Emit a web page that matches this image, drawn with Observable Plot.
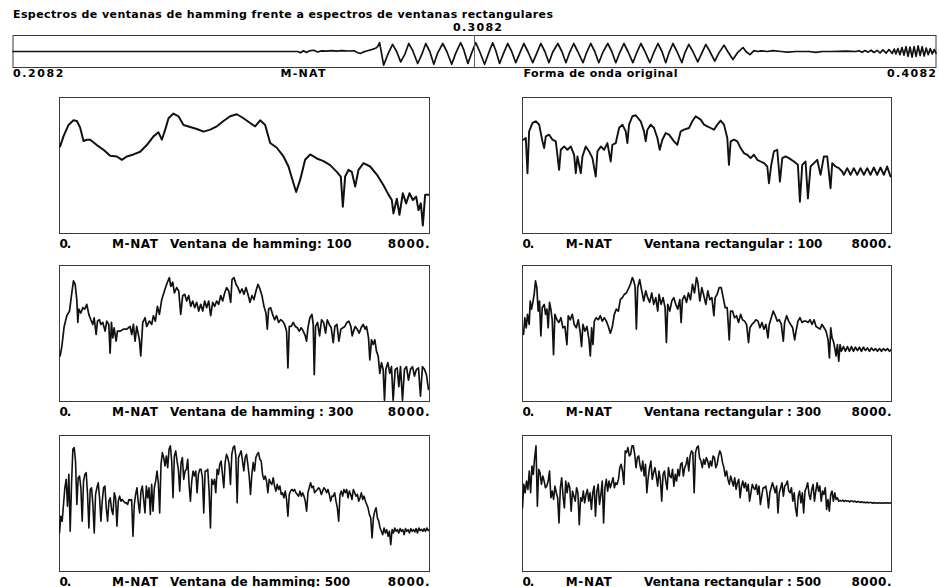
<!DOCTYPE html>
<html>
<head>
<meta charset="utf-8">
<script src="https://cdn.jsdelivr.net/npm/d3@7"></script>
<script src="https://cdn.jsdelivr.net/npm/@observablehq/plot@0.6"></script>
<style>
  body { margin: 0; background: #fff; }
  #page { position: relative; width: 939px; height: 587px; overflow: hidden; background: #fff; }
  #page svg { position: absolute; overflow: visible; }
</style>
</head>
<body>
<div id="page"></div>
<script>
// ---- Texts ----
const chartTitle = "Espectros de ventanas de hamming frente a espectros de ventanas rectangulares";
const signalName = "M-NAT";
const waveCaption = "Forma de onda original";
const captions = [
  "Ventana de hamming: 100", "Ventana rectangular : 100",
  "Ventana de hamming : 300", "Ventana rectangular : 300",
  "Ventana de hamming: 500", "Ventana rectangular : 500"
];
const timeTicks = [0.2082, 0.3082, 0.4082];   // start, cursor, end (s)
const freqTicks = [0, 8000];                  // Hz

// ---- Original waveform: sample number (16 kHz, from 0.2082 s) and amplitude ----
const sampleRate = 16000;
const waveSample = [0,987,997,1007,1018,1028,1042,1056,1070,1087,1105,1122,1139,1164,1184,1195,1205,1216,1229,1243,1257,
  1264,1271,1285,1299,1316,1330,1344,1358,1372,1386,1403,1417,1431,1445,1459,1472,1490,1504,1521,1535,1552,1563,1577,1590,
  1604,1618,1635,1649,1663,1674,1687,1701,1715,1729,1743,1757,1771,1785,1802,1816,1830,1844,1858,1871,1889,1903,1917,1930,
  1944,1958,1976,1989,2003,2017,2031,2045,2062,2076,2090,2104,2118,2132,2149,2163,2177,2191,2208,2222,2236,2250,2263,2274,
  2288,2302,2319,2329,2343,2357,2374,2388,2402,2416,2433,2447,2465,2478,2496,2513,2531,2541,2555,2569,2583,
  2593,2614,2635,2663,2684,2715,2760,2784,2805,2836,2888,2923,
  2933,2944,2954,2965,2975,2985,2996,3006,3016,3027,3037,3048,3055,3061,3068,3075,3082,3089,3096,3103,3110,3117,3124,3131,
  3138,3145,3152,3159,3166,3173,3180,3187,3194,3200];
const waveAmp = [0,0,-0.08,0.05,-0.06,0.04,0.08,-0.03,0.04,0.02,0.06,0.02,0.05,0.03,0.04,-0.08,-0.12,-0.02,0.05,0.12,0.2,
  0.3,0.55,-0.85,-0.2,0.45,0,-0.65,-0.2,0.5,0.05,-0.75,-0.2,0.5,0,-0.8,-0.1,0.5,0,-0.8,-0.1,0.55,0.1,-0.75,-0.1,
  0.55,0,-0.8,-0.1,0.55,0.05,-0.75,-0.1,0.5,0,-0.7,-0.1,0.5,0,-0.7,-0.1,0.5,0,-0.7,-0.05,0.5,0,-0.7,-0.05,
  0.5,0,-0.7,-0.05,0.5,0,-0.7,-0.05,0.5,0,-0.7,-0.05,0.5,0,-0.7,-0.05,0.5,0,-0.7,-0.05,0.5,0,-0.7,-0.1,
  0.5,0,-0.7,-0.1,0.45,0,-0.65,-0.1,0.45,0,-0.6,-0.1,0.4,0,-0.5,-0.05,0.25,0,-0.2,0.05,0,
  0.04,0,0.05,0,-0.04,0,0,-0.05,0,0,0.02,0,
  0.05,-0.05,0.06,-0.04,0.08,-0.06,0.07,-0.08,0.1,-0.1,0.12,-0.12,0.15,-0.15,0.18,-0.2,0.25,-0.22,0.3,-0.3,0.28,-0.35,
  0.3,-0.3,0.35,-0.25,0.3,-0.28,0.22,-0.2,0.18,-0.15,0.12,-0.1];

// ---- Spectra (level, relative dB) ----
const hamming100Freq = [14,86,195,303,375,447,519,591,663,807,951,1095,1240,1348,1456,1600,1744,1888,2032,2140,
  2213,2285,2357,2465,2573,2681,2825,2969,3113,3258,3402,3546,3690,3834,3978,4122,4230,4339,4447,4555,
  4699,4843,4951,5059,5117,5203,5311,5420,5564,5708,5852,5996,6082,6126,6176,6248,6320,6393,6465,6573,
  6717,6861,7005,7113,7185,7221,7293,7351,7423,7495,7567,7640,7712,7762,7813,7856,7906,7978];
const hamming100Level = [65,72.5,81,84.5,84,79,69,70,70,66,62.5,58,57.5,55,57.5,59,61,66,72.5,75.5,
  70,77.5,86,89.5,87.5,81,79.5,78,76,77.5,80,84,87.5,89,86,82.5,80,84.5,81,67.5,
  64,57.5,50,37.5,31,40,55,59,56,54,51,46,42.5,20,42.5,47.5,46,35,47.5,52.5,
  50,44,36,29,25,15,26,14,30,22.5,30,25,27.5,17.5,22.5,6,29,29];

const rect100Freq = [22,72,108,144,217,289,361,433,469,505,578,650,722,794,830,903,975,1047,1119,1155,1191,1264,1300,
  1372,1444,1516,1588,1625,1697,1769,1841,1913,1949,2022,2094,2166,2238,2274,2310,2383,2455,2563,2635,2671,2708,
  2780,2852,2924,2975,3032,3105,3177,3285,3357,3430,3502,3610,3682,3754,3863,3935,4007,4079,4152,4224,4296,4368,
  4440,4476,4513,4585,4657,4729,4801,4874,4946,5018,5090,5162,5235,5307,5343,5393,5451,5523,5581,5632,5704,5776,
  5884,5971,6014,6065,6137,6188,6245,6318,6390,6462,6534,6606,6679,6715,6787,6859,6931,6967,7040,7112,7184,7256,
  7328,7401,7473,7545,7617,7689,7762,7834,7906,7978];
const rect100Level = [70,71.25,45,76.25,82.5,83.75,81.25,68.75,63.75,72.5,73.75,70,68.75,47.5,62.5,65,62.5,65,58.75,45,
  57.5,45,57.5,65,61.25,56.25,42.5,61.25,65,62.5,67.5,53.75,66.25,67.5,78.75,81.25,76.25,67.5,81.25,87.5,88.25,83.75,
  76.25,68.75,77.5,81.25,78.75,71.25,62.5,70,75,73.75,68.75,66.25,76.25,77.5,78.75,83.75,87.5,85,81.25,80,78.75,77.5,
  81.25,84.25,81.25,71.25,51.25,68.75,70,68.75,63.75,60,58.75,56.25,58.75,55,53.75,52.5,50,37.5,51.25,61.25,62.5,38.75,
  56.25,57.5,56.25,53.75,51.25,23.75,51.25,53.75,26.25,50,52.5,55,43.75,57.5,57.5,33.75,52.5,50,48.75,46.25,43.75,
  48.75,43.75,48.75,43.75,48.75,43.75,48.75,43.75,49.25,43.75,49.25,43.75,50,42.5];

const hamming300Freq = [14,50,101,158,216,266,302,338,374,396,418,461,504,547,590,634,677,720,749,792,
  821,864,893,936,986,1022,1066,1094,1123,1152,1181,1224,1253,1310,1382,1454,1526,1562,1598,1634,
  1670,1728,1757,1800,1850,1886,1944,1994,2030,2074,2117,2160,2210,2282,2333,2376,2405,2448,2484,2534,
  2578,2621,2664,2707,2750,2794,2837,2880,2923,2966,3010,3053,3096,3139,3182,3226,3269,3312,3355,3398,
  3442,3485,3528,3571,3614,3658,3701,3730,3773,3816,3859,3902,3946,3989,4032,4075,4118,4162,4205,4248,
  4291,4334,4378,4421,4464,4493,4522,4565,4608,4651,4694,4738,4781,4824,4867,4910,4939,4968,5011,5054,
  5098,5141,5184,5227,5270,5314,5342,5371,5414,5458,5486,5508,5537,5580,5623,5666,5710,5753,5789,5832,
  5875,5918,5954,5998,6041,6084,6127,6170,6214,6257,6300,6329,6358,6394,6437,6480,6523,6566,6610,6638,
  6682,6710,6746,6782,6818,6854,6890,6926,6962,6998,7027,7056,7099,7142,7178,7214,7258,7301,7337,7373,
  7416,7459,7502,7546,7589,7632,7675,7718,7762,7805,7848,7891,7934,7978];
const hamming300Level = [34,41,56,64,67.5,81,90,87.5,76,59,69,66,70,69,72.5,65,61,57.5,62.5,50,
  60,61,57.5,59,52.5,60,57.5,36,59,47.5,55,45,52.5,52.5,54,54,56,50,57.5,45,
  56,46,34,59,62.5,56,60,57.5,64,60,71,65,76,84,89,92.5,86,89,81,85,
  82.5,65,79,80,75,79,71,75,70,74,67.5,72.5,67.5,75,70,75,64,74,71,75,
  72.5,79,75,81,85,82.5,74,91,92.5,87.5,85,81,84,80,85,80,74,79,76,82.5,
  87.5,84,79,71,66,54,69,70,65,61,64,59,61,60,57.5,52.5,25,56,56,59,
  56,55,52.5,55,52.5,49,45,55,62.5,65,57.5,20,56,59,49,61,59,51,61,57.5,
  55,44,56,57.5,45,54,55,56,59,60,56,49,52.5,56,54,51,55,57.5,54,56,
  47.5,31,46,42.5,46,37.5,34,21,29,24,1,24,29,21,26,1,24,25,11,26,
  1,24,26,16,24,26,19,24,25,4,26,24,20,9];

const rect300Freq = [22,51,80,109,145,167,195,224,253,282,311,340,369,398,427,471,500,529,557,586,
  615,644,673,702,746,789,833,876,919,963,992,1035,1079,1122,1166,1209,1253,1281,1310,1354,
  1397,1441,1470,1499,1528,1557,1600,1643,1687,1730,1774,1817,1861,1904,1948,1991,2034,2078,2121,2165,
  2208,2252,2295,2339,2382,2411,2440,2469,2498,2541,2585,2628,2672,2715,2758,2802,2845,2889,2932,2961,
  3005,3048,3091,3120,3149,3193,3236,3280,3323,3367,3410,3439,3468,3511,3555,3598,3642,3685,3729,3772,
  3801,3844,3888,3931,3975,4018,4062,4105,4149,4177,4221,4264,4308,4351,4395,4438,4482,4511,4554,4597,
  4641,4684,4728,4771,4815,4858,4901,4930,4974,5017,5061,5104,5148,5191,5235,5278,5321,5350,5394,5437,
  5481,5524,5568,5611,5654,5683,5727,5770,5814,5857,5901,5930,5973,6016,6060,6103,6147,6190,6234,6277,
  6321,6364,6407,6451,6494,6538,6581,6625,6654,6683,6711,6740,6769,6798,6827,6856,6885,6914,6958,7001,
  7045,7088,7131,7175,7218,7262,7305,7349,7392,7435,7479,7522,7566,7609,7653,7696,7740,7783,7826,7870,
  7913,7957,8000];
const rect300Level = [50,62.5,55,65,57.5,75,69,74,80,90,85,67.5,75,49,70,72.5,65,69,55,74,
  69,61,35,65,61,59,62.5,55,56,42.5,64,61,65,57.5,55,61,51,41,57.5,52.5,
  56,46,34,55,42.5,60,62.5,61,64,60,62.5,60,56,51,56,65,69,67.5,76,77.5,
  80,81,84,87.5,92.5,90,86,54,85,91,82.5,75,82.5,77.5,74,81,72.5,77.5,67.5,80,
  72.5,77.5,70,44,72.5,67.5,75,77.5,72.5,69,76,59,76,79,74,81,76,87.5,81,92.5,
  89,75,85,79,72.5,82.5,76,77.5,64,77.5,80,85,85,77.5,70,70,46,67.5,67.5,62.5,
  64,59,65,61,60,57.5,44,55,57.5,59,61,60,55,59,54,57.5,47.5,57.5,62.5,67.5,
  64,60,61,57.5,45,59,64,60,57.5,55,46,52.5,60,62.5,59,60,60,59,61,57.5,
  61,56,55,54,57.5,55,52.5,46,32.5,55,47.5,45,40,34,42.5,30,42.5,37.5,41,37.5,
  41,37.5,41,37.5,40.5,38,40.5,37.5,40.5,38,40,37.5,40,38,39.5,37.5,39.5,37.5,39.5,38,
  39.5,37.5,39];

// 500-sample windows: levels on evenly spaced bins from 0 to 8000 Hz
const hamming500Level = [28.75,41.25,37.5,50,62.5,68.75,48.75,72.5,30,65,91.25,92.5,82.5,50,70,71.25,62.5,37.5,67.5,72.5,
  73.75,57.5,32.5,61.25,62.5,50,28.75,57.5,62.5,66.25,55,37.5,52.5,62.5,63.75,47.5,37.5,52.5,55,46.25,
  42.5,58.75,55,33.75,52.5,56.25,52.5,53.75,52.5,51.25,51.25,50,53.75,53,53.75,
  26.25,50,57.5,62.5,51.25,43.75,60,63.75,53.75,43.75,63.75,55,62.5,42.5,65,45,62.5,67.5,75,66.25,
  43.75,80,88.75,85,78.75,86.25,77.5,91.25,93.75,82.5,55,86.25,90,82.5,76.25,60,81.25,85,68.75,75,
  76.25,83.75,65,52.5,67.5,75,71.25,75,58.75,72.5,76.25,76.25,70,43.75,75,75,76.25,60,32.5,68.75,
  65,68.75,58.75,76.25,72.5,80,82.5,72.5,62.5,81.25,87.5,85,80,65,87.5,92.5,93.75,86.25,51.25,85,
  87.5,90,82.5,75,85,87.5,80,71.25,57.5,72.5,81.25,75,85,87.5,88.75,83.75,82.5,72.5,68.75,71.25,
  67.5,58.75,68.75,66.25,65,70,63.75,60,65,61.25,63.75,57.5,58.75,55,60,53.75,41.25,57.5,60,61.25,
  60,61.25,58.75,57.5,56.25,60,56.25,58.75,56.25,52.5,45,58.75,62.5,66.25,62.5,63.75,58.75,60,61.25,62.5,
  61.25,57.5,60,62.5,61.25,58.75,61.25,57.5,52.5,56.25,56.25,58.75,52.5,47.5,37.5,57.5,60,56.25,61.25,58.75,
  61.25,55,60,57.5,53.75,61.25,58.75,56.25,57.5,52.5,55,58.75,53.75,56.25,52.5,50,47.5,42.5,40,25,
  40,45,47.5,40,37.5,32.5,30,27.5,32.5,28.75,31.25,26.25,30,20,31.25,28.75,32.5,30,31.25,28.75,
  32,30,31.25,27.5,32,30,31.25,28.75,32,30,31.25,29.5,32,28.75,32.5,30.5,31.5,30,32,30,
  32.5,30.5,31.25];
const rect500Level = [47.5,65,58.75,67.5,61.25,75,58.75,78.75,72.5,85,93.75,48.75,76.25,73.75,65,71.25,67.5,62.5,63.75,67.5,
  75,55,60,53.75,63.75,58.75,55,36.25,62.5,70,56.25,47.5,67.5,58.75,66.25,62.5,45,60,56.25,52.5,
  62.5,58.75,35,55,52.5,60,51.25,57.5,61.25,52.5,58.75,46.25,58.75,63.75,41.25,60,65,50,57.5,67.5,
  36.25,62.5,68.75,60,67.5,62.5,66.25,70,62.5,66.25,65,68.75,77.5,80,75,65,90,88.75,92.5,86.25,
  87.5,93.75,93.75,87.5,77.5,85,86.25,78.75,75,82.5,71.25,80,58.75,70,77.5,82.5,68.75,73.75,77.5,71.25,
  63.75,75,68.75,52.5,72.5,75,67.5,61.25,77.5,71.25,70,76.25,63.75,72.5,67.5,76.25,71.25,80,81.25,71.25,
  77.5,80,85,75,86.25,90,88.75,58.75,88.75,92.5,93.75,85,82.5,77.5,83.75,80,85,82.5,77.5,82.5,
  78.75,86.25,85,77.5,80,86.25,90,87.5,81.25,77.5,71.25,75,68.75,65,71.25,67.5,63.75,70,61.25,66.25,
  68.75,55,63.75,67.5,62.5,66.25,60,65,52.5,58.75,65,62.5,61.25,65,57.5,63.75,50,56.25,62.5,62.5,
  63.75,57.5,47.5,58.75,62.5,66.25,62.5,58.75,63.75,43.75,58.75,62.5,66.25,56.25,63.75,65,67.5,60,58.75,62.5,
  52.5,58.75,47.5,41.25,56.25,60,51.25,58.75,43.75,60,62.5,66.25,57.5,53.75,61.25,65,52.5,60,66.25,60,
  63.75,52.5,60,57.5,62.5,46.25,53.75,45,57.5,60,52.5,58.75,53.75,55,52.5,53,52.5,53.25,52.25,53,
  52.5,52.75,52,52.75,52.5,52,52.5,51.75,52.25,52,51.5,52,51.5,51.75,51.25,51.75,51.25,51.5,51.5,51,
  51.5,51,51.25,51,51.25,51,51.25,51,51.25,51,51.25,51,51.25,51];

// ---- Helpers ----
const page = document.getElementById("page");
const ink = "#111";
const frameInk = "#3a3a3a";
const font = {fontFamily: "'DejaVu Sans', Verdana, sans-serif", fontWeight: "bold", background: "transparent"};

function place(svg, left, top) {
  svg.style.left = left + "px";
  svg.style.top = top + "px";
  page.appendChild(svg);
}
// Stretch labels to the widths of the bitmap font they imitate
function fitText(svg, widths) {
  svg.querySelectorAll("text").forEach(t => {
    const w = widths[t.textContent];
    if (w) { t.setAttribute("textLength", w); t.setAttribute("lengthAdjust", "spacing"); }
  });
}
const bins = n => Array.from({length: n}, (_, i) => i * freqTicks[1] / (n - 1));
const rows = (freq, level) => freq.slice(0, level.length).map((f, i) => ({freq: f, level: level[i]}));

// ---- Title strip and original waveform ----
const wave = waveSample.map((s, i) => ({t: timeTicks[0] + s / sampleRate, a: waveAmp[i]}));
const tfmt = d => d.toFixed(4);
const topPlot = Plot.plot({
  width: 939, height: 80,
  marginLeft: 12.5, marginRight: 3.5, marginTop: 35, marginBottom: 13,
  style: {...font, fontSize: "11px"},
  x: {domain: [timeTicks[0], timeTicks[2]], axis: null},
  y: {domain: [-1, 1], axis: null},
  marks: [
    Plot.frame({stroke: frameInk}),
    Plot.line(wave, {x: "t", y: "a", stroke: ink, strokeWidth: 1.7}),
    Plot.ruleX([timeTicks[1]], {x: d => d, stroke: "#666", strokeWidth: 1}),
    Plot.text([chartTitle], {text: d => d, frameAnchor: "top-left", textAnchor: "start", lineAnchor: "bottom", dy: -18, fontSize: 11}),
    Plot.text([timeTicks[1]], {x: d => d, text: tfmt, frameAnchor: "top", lineAnchor: "bottom", dy: -5, dx: 3}),
    Plot.text([timeTicks[0]], {x: d => d, text: tfmt, frameAnchor: "bottom", textAnchor: "start", lineAnchor: "bottom", dy: 9.5}),
    Plot.text([timeTicks[2]], {x: d => d, text: tfmt, frameAnchor: "bottom", textAnchor: "end", lineAnchor: "bottom", dy: 9.5}),
    Plot.text([signalName], {text: d => d, frameAnchor: "bottom-left", textAnchor: "start", lineAnchor: "bottom", dx: 267.5, dy: 9.5}),
    Plot.text([waveCaption], {text: d => d, frameAnchor: "bottom-left", textAnchor: "start", lineAnchor: "bottom", dx: 510.5, dy: 9.5})
  ]
});
fitText(topPlot, {[chartTitle]: 540, "0.3082": 49, "0.2082": 50.5, "0.4082": 49, [signalName]: 45, [waveCaption]: 154});
place(topPlot, 0, 0);

// ---- Spectrum panels: Hamming windows on the left, rectangular on the right ----
const panels = [
  {data: rows(hamming100Freq, hamming100Level), caption: captions[0], width: 2},
  {data: rows(rect100Freq, rect100Level), caption: captions[1], width: 1.9},
  {data: rows(hamming300Freq, hamming300Level), caption: captions[2], width: 1.7},
  {data: rows(rect300Freq, rect300Level), caption: captions[3], width: 1.7},
  {data: rows(bins(hamming500Level.length), hamming500Level), caption: captions[4], width: 1.6},
  {data: rows(bins(rect500Level.length), rect500Level), caption: captions[5], width: 1.6}
];
const colLeft = [59, 522], colWidth = [370, 369];
const rowTop = [97, 265, 435], frameH = 136;
const nameDx = [52.5, 43.3], captionDx = [110.5, 121.6];
const captionW = [181.7, 178.3, 183.3, 177, 180, 177];
const zeroW = 11.7, endW = [41.7, 40];
const m = 2;

panels.forEach((p, k) => {
  const col = k % 2, row = Math.floor(k / 2);
  const fmt = d => `${d}.`;
  const svg = Plot.plot({
    width: colWidth[col] + 2 * m, height: frameH + m + 20,
    marginLeft: m, marginRight: m, marginTop: m, marginBottom: 20,
    style: {...font, fontSize: "12px"},
    x: {domain: freqTicks, axis: null},
    y: {domain: [0, 101.5], axis: null},
    marks: [
      Plot.frame({stroke: frameInk}),
      Plot.line(p.data, {x: "freq", y: "level", stroke: ink, strokeWidth: p.width, clip: true}),
      Plot.text([freqTicks[0]], {x: d => d, text: fmt, frameAnchor: "bottom", textAnchor: "start", lineAnchor: "bottom", dy: 14}),
      Plot.text([freqTicks[1]], {x: d => d, text: fmt, frameAnchor: "bottom", textAnchor: "end", lineAnchor: "bottom", dy: 14}),
      Plot.text([signalName], {text: d => d, frameAnchor: "bottom-left", textAnchor: "start", lineAnchor: "bottom", dx: nameDx[col], dy: 14}),
      Plot.text([p.caption], {text: d => d, frameAnchor: "bottom-left", textAnchor: "start", lineAnchor: "bottom", dx: captionDx[col], dy: 14})
    ]
  });
  fitText(svg, {"0.": zeroW, "8000.": endW[col], [signalName]: 46, [p.caption]: captionW[k]});
  place(svg, colLeft[col] - m, rowTop[row] - m);
});
</script>
</body>
</html>
